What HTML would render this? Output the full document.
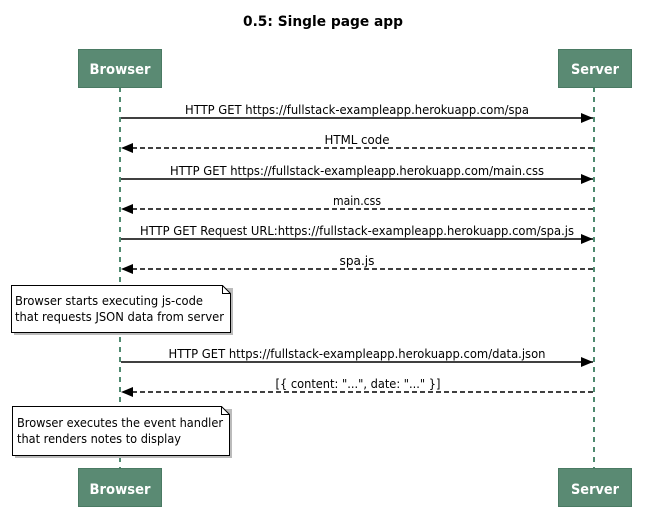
<!DOCTYPE html>
<html><head><meta charset="utf-8"><style>html,body{margin:0;padding:0;background:#fff}svg{display:block}</style></head>
<body>
<svg width="646" height="531" viewBox="0 0 646 531" xmlns="http://www.w3.org/2000/svg" font-family="'DejaVu Sans','Liberation Sans',sans-serif">
<defs>
<marker id="ah" markerWidth="12" markerHeight="10" refX="12" refY="5" orient="auto" markerUnits="userSpaceOnUse"><path d="M0,0 L12,5 L0,10 Z" fill="#000"/></marker>
</defs>
<text x="323" y="26" text-anchor="middle" font-size="14" font-weight="bold" textLength="160" lengthAdjust="spacingAndGlyphs">0.5: Single page app</text>
<line x1="120" y1="87" x2="120" y2="468" stroke="#4f8a70" stroke-width="2" stroke-dasharray="5,5"/>
<line x1="594" y1="87" x2="594" y2="468" stroke="#4f8a70" stroke-width="2" stroke-dasharray="5,5"/>
<g fill="#5a8a73" stroke="#4a7a63" stroke-width="1">
<rect x="78.5" y="49.5" width="83" height="38"/>
<rect x="558.5" y="49.5" width="73" height="38"/>
<rect x="78.5" y="468.5" width="83" height="38"/>
<rect x="558.5" y="468.5" width="73" height="38"/>
</g>
<g fill="#fff" font-size="14" font-weight="bold" text-anchor="middle">
<text x="120" y="74" textLength="61" lengthAdjust="spacingAndGlyphs">Browser</text>
<text x="595" y="74" textLength="48" lengthAdjust="spacingAndGlyphs">Server</text>
<text x="120" y="494" textLength="61" lengthAdjust="spacingAndGlyphs">Browser</text>
<text x="595" y="494" textLength="48" lengthAdjust="spacingAndGlyphs">Server</text>
</g>
<g stroke="#000" stroke-width="1.5">
<line x1="121" y1="118" x2="593" y2="118" marker-end="url(#ah)"/>
<line x1="593" y1="148" x2="121" y2="148" stroke-dasharray="5,3" marker-end="url(#ah)"/>
<line x1="121" y1="179" x2="593" y2="179" marker-end="url(#ah)"/>
<line x1="593" y1="209" x2="121" y2="209" stroke-dasharray="5,3" marker-end="url(#ah)"/>
<line x1="121" y1="239" x2="593" y2="239" marker-end="url(#ah)"/>
<line x1="593" y1="269" x2="121" y2="269" stroke-dasharray="5,3" marker-end="url(#ah)"/>
<line x1="121" y1="362" x2="593" y2="362" marker-end="url(#ah)"/>
<line x1="593" y1="392" x2="121" y2="392" stroke-dasharray="5,3" marker-end="url(#ah)"/>
</g>
<g font-size="12" text-anchor="middle" lengthAdjust="spacingAndGlyphs">
<text x="357" y="114" textLength="344" lengthAdjust="spacingAndGlyphs">HTTP GET https://fullstack-exampleapp.herokuapp.com/spa</text>
<text x="357" y="144" textLength="65" lengthAdjust="spacingAndGlyphs">HTML code</text>
<text x="357" y="175" textLength="374" lengthAdjust="spacingAndGlyphs">HTTP GET https://fullstack-exampleapp.herokuapp.com/main.css</text>
<text x="357" y="205" textLength="48" lengthAdjust="spacingAndGlyphs">main.css</text>
<text x="357" y="235" textLength="434" lengthAdjust="spacingAndGlyphs">HTTP GET Request URL:https://fullstack-exampleapp.herokuapp.com/spa.js</text>
<text x="357" y="265" textLength="35" lengthAdjust="spacingAndGlyphs">spa.js</text>
<text x="357" y="358" textLength="377" lengthAdjust="spacingAndGlyphs">HTTP GET https://fullstack-exampleapp.herokuapp.com/data.json</text>
<text x="358" y="388" textLength="165" lengthAdjust="spacingAndGlyphs">[{ content: "...", date: "..." }]</text>
</g>
<g>
<path d="M14,288 H233 V335 H14 Z" fill="#bbb"/>
<path d="M11.5,285.5 H222.5 L230.5,293.5 V332.5 H11.5 Z" fill="#fff" stroke="#000"/>
<path d="M222.5,285.5 V293.5 H230.5" fill="none" stroke="#000"/>
<path d="M15,409 H232 V458 H15 Z" fill="#bbb"/>
<path d="M12.5,406.5 H221.5 L229.5,414.5 V455.5 H12.5 Z" fill="#fff" stroke="#000"/>
<path d="M221.5,406.5 V414.5 H229.5" fill="none" stroke="#000"/>
</g>
<g font-size="12">
<text x="15" y="305" textLength="188" lengthAdjust="spacingAndGlyphs">Browser starts executing js-code</text>
<text x="15" y="321" textLength="209" lengthAdjust="spacingAndGlyphs">that requests JSON data from server</text>
<text x="17" y="427" textLength="206" lengthAdjust="spacingAndGlyphs">Browser executes the event handler</text>
<text x="17" y="443" textLength="164" lengthAdjust="spacingAndGlyphs">that renders notes to display</text>
</g>
</svg>
</body></html>
